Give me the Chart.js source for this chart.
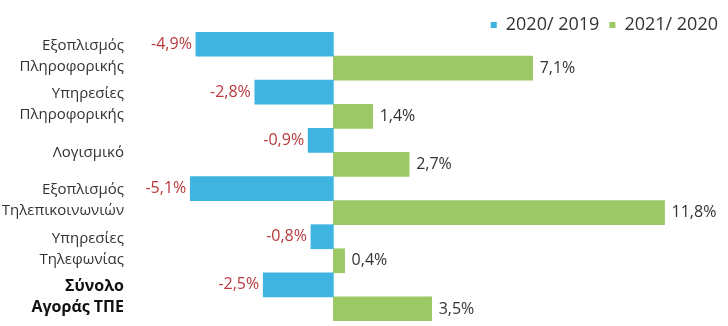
<!DOCTYPE html>
<html>
<head>
<meta charset="utf-8">
<script src="https://cdn.jsdelivr.net/npm/chart.js@4/dist/chart.umd.min.js"></script>
<style>
  html, body { margin: 0; padding: 0; background: #fff; }
  #wrap { width: 728px; height: 326px; }
</style>
</head>
<body>
<div id="wrap"><canvas id="chart_1"></canvas></div>
<script>
// categories (multi-line labels) and the two series
const categories = [
  ['Εξοπλισμός', 'Πληροφορικής'],
  ['Υπηρεσίες', 'Πληροφορικής'],
  'Λογισμικό',
  ['Εξοπλισμός', 'Τηλεπικοινωνιών'],
  ['Υπηρεσίες', 'Τηλεφωνίας'],
  ['Σύνολο', 'Αγοράς ΤΠΕ']
];
const seriesNames = ['2020/ 2019', '2021/ 2020'];
const values2020 = [-4.9, -2.8, -0.9, -5.1, -0.8, -2.5];
const values2021 = [7.1, 1.4, 2.7, 11.8, 0.4, 3.5];

const FONT = "'Open Sans', 'DejaVu Sans', sans-serif";

// value labels next to each bar
const barLabels = {
  id: 'barLabels',
  afterDatasetsDraw(chart) {
    const ctx = chart.ctx;
    ctx.save();
    ctx.font = '16px ' + FONT;
    ctx.textBaseline = 'middle';
    chart.data.datasets.forEach((ds, i) => {
      const meta = chart.getDatasetMeta(i);
      meta.data.forEach((bar, j) => {
        const v = ds.data[j];
        const txt = v.toFixed(1).replace('.', ',') + '%';
        if (v < 0) {
          ctx.fillStyle = '#b8393b';
          ctx.textAlign = 'right';
          ctx.fillText(txt, bar.x - 4, bar.y);
        } else {
          ctx.fillStyle = '#333333';
          ctx.textAlign = 'left';
          ctx.fillText(txt, bar.x + 7, bar.y);
        }
      });
    });
    ctx.restore();
  }
};

new Chart(document.getElementById('chart_1'), {
  type: 'bar',
  data: {
    labels: categories,
    datasets: [{
      label: seriesNames[0],
      data: values2020,
      backgroundColor: '#3fb4e0'
    }, {
      label: seriesNames[1],
      data: values2021,
      backgroundColor: '#9cc866'
    }]
  },
  options: {
    indexAxis: 'y',
    responsive: true,
    maintainAspectRatio: false,
    animation: false,
    layout: { padding: { top: 6, right: 0, bottom: 5, left: 0 } },
    datasets: { bar: { categoryPercentage: 1, barPercentage: 1 } },
    scales: {
      x: {
        display: false,
        min: -6,
        max: 14.06
      },
      y: {
        grid: { display: false, drawTicks: false },
        border: { display: false },
        afterFit(scale) {
          scale.width = 165;
          // the tick padding is only meant as horizontal space here
          scale.paddingTop = 0;
          scale.paddingBottom = 0;
        },
        ticks: {
          padding: 41,
          color: (c) => c.index === 5 ? '#111' : '#333',
          font: (c) => ({
            family: FONT,
            size: c.index === 5 ? 16 : 15,
            weight: c.index === 5 ? 'bold' : 'normal',
            lineHeight: c.index === 5 ? 1.35 : 1.4
          })
        }
      }
    },
    plugins: {
      tooltip: { enabled: false },
      legend: {
        position: 'top',
        align: 'end',
        maxHeight: 26,
        labels: {
          boxWidth: 6,
          boxHeight: 6,
          padding: 10,
          color: '#333',
          font: { family: FONT, size: 18 }
        }
      }
    }
  },
  plugins: [barLabels]
});
</script>
</body>
</html>
